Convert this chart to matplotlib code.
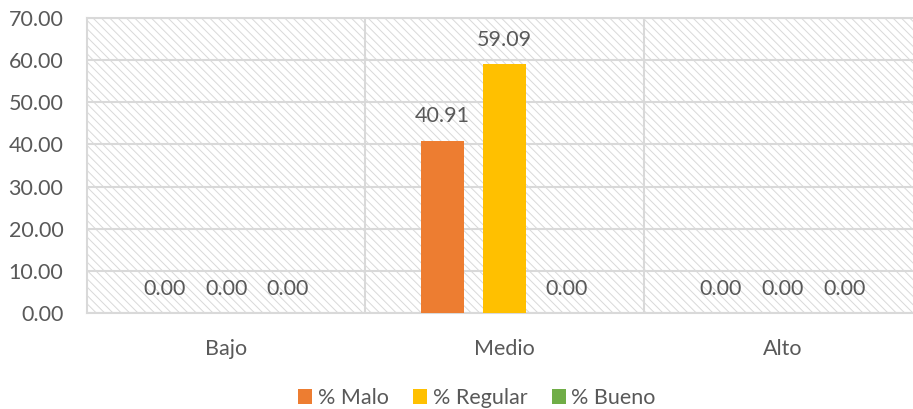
import numpy as np
import matplotlib
matplotlib.use("Agg")
import matplotlib.pyplot as plt

categories = ["Bajo", "Medio", "Alto"]
series_names = ["% Malo", "% Regular", "% Bueno"]
malo = [0.00, 40.91, 0.00]
regular = [0.00, 59.09, 0.00]
bueno = [0.00, 0.00, 0.00]
y_ticks = [0, 10, 20, 30, 40, 50, 60, 70]

colors = ["#ED7D31", "#FFC000", "#70AD47"]
text_color = "#595959"
grid_color = "#D9D9D9"

plt.rcParams["font.family"] = ["Lato", "DejaVu Sans"]
plt.rcParams["hatch.color"] = "#CCCCCC"
plt.rcParams["hatch.linewidth"] = 0.7

fig = plt.figure(figsize=(9.13, 4.09), dpi=100)
ax = fig.add_axes([87 / 913, 1 - 313 / 409, (922 - 87) / 913, (313 - 18) / 409])

# hatched plot area background
ax.patch.set_facecolor("white")
ax.add_patch(plt.Rectangle((0, 0), 1, 1, transform=ax.transAxes, facecolor="white",
                           edgecolor=grid_color, hatch="\\\\\\\\", linewidth=0, zorder=0))

x = np.arange(len(categories))
width = 0.154
step = 0.222
for i, (vals, name) in enumerate(zip([malo, regular, bueno], series_names)):
    pos = x + (i - 1) * step
    ax.bar(pos, vals, width, color=colors[i], label=name, zorder=3)
    for px, v in zip(pos, vals):
        ax.annotate(f"{v:.2f}", (px, v), xytext=(0, 17.6), textcoords="offset points",
                    ha="center", va="center", fontsize=15.5, color=text_color, zorder=4)

ax.set_xlim(-0.5, 2.5)
ax.set_ylim(0, 70)
ax.set_yticks(y_ticks)
ax.set_yticklabels([f"{t:.2f}" for t in y_ticks])
ax.set_xticks(x)
ax.set_xticklabels(categories)
ax.set_xticks([0.5, 1.5], minor=True)

ax.grid(axis="y", color=grid_color, linewidth=1.5, zorder=1)
ax.grid(axis="x", which="minor", color=grid_color, linewidth=1.5, zorder=1)
ax.set_axisbelow(True)

ax.tick_params(axis="both", which="both", length=0, colors=text_color, labelsize=15.5)
ax.tick_params(axis="y", pad=17)
ax.tick_params(axis="x", pad=19)
for sp in ax.spines.values():
    sp.set_color(grid_color)
    sp.set_linewidth(1.5)

leg = fig.legend(loc="center", bbox_to_anchor=(477 / 913, 1 - 398 / 409), ncol=3,
                 frameon=False, fontsize=15.5, handlelength=0.65, handleheight=0.65,
                 handletextpad=0.25, columnspacing=1.15, labelcolor=text_color)

fig.savefig("out.png", dpi=100)
